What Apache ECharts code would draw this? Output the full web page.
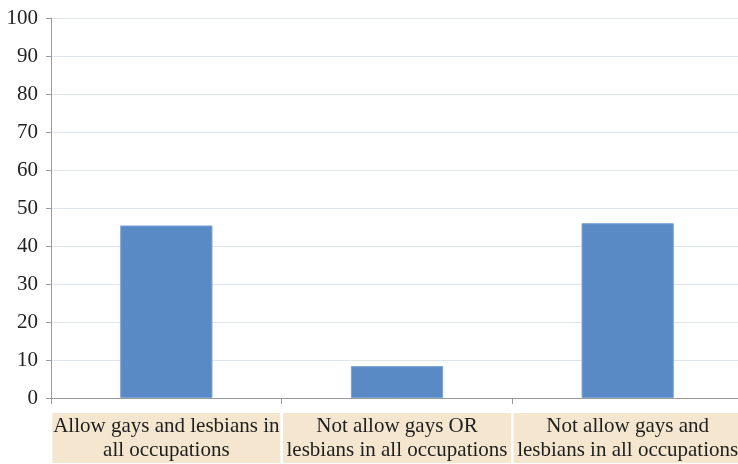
<!DOCTYPE html>
<html>
<head>
<meta charset="utf-8">
<script src="https://cdn.jsdelivr.net/npm/echarts@6/dist/echarts.min.js"></script>
<style>
  html, body { margin: 0; padding: 0; background: #ffffff; }
  #chart { width: 738px; height: 464px; }
</style>
</head>
<body>
<div id="chart"></div>
<script>
// Survey responses on occupational restrictions (percent)
const categories = [
  'Allow gays and lesbians in\nall occupations',
  'Not allow gays OR\nlesbians in all occupations',
  'Not allow gays and\nlesbians in all occupations'
];
const values = [45.4, 8.4, 46.0];
const yTicks = { min: 0, max: 100, step: 10 };

const chart = echarts.init(document.getElementById('chart'));
chart.setOption({
  backgroundColor: '#ffffff',
  animation: false,
  grid: { left: 51, top: 18, width: 692, bottom: 66, containLabel: false, outerBoundsMode: 'none' },
  xAxis: {
    type: 'category',
    data: categories,
    boundaryGap: true,
    axisLine: { show: true, lineStyle: { color: '#9a9a9a', width: 1 } },
    axisTick: { show: true, length: 6, alignWithLabel: false, lineStyle: { color: '#9a9a9a' } },
    splitLine: { show: false },
    axisLabel: {
      interval: 0,
      margin: 15,
      fontFamily: 'Liberation Serif',
      fontSize: 21,
      lineHeight: 24,
      color: '#1e1e1e',
      backgroundColor: '#f4e6cf',
      width: 228,
      padding: [1, 0, 1, 0],
      align: 'center'
    }
  },
  yAxis: {
    type: 'value',
    min: yTicks.min,
    max: yTicks.max,
    interval: yTicks.step,
    axisLine: { show: true, lineStyle: { color: '#9a9a9a', width: 1 } },
    axisTick: { show: true, length: 5, lineStyle: { color: '#9a9a9a' } },
    splitLine: { show: true, lineStyle: { color: '#dde4ee', width: 1 } },
    axisLabel: {
      margin: 13,
      fontFamily: 'Liberation Serif',
      fontSize: 21,
      color: '#222222'
    }
  },
  series: [{
    type: 'bar',
    data: values,
    barWidth: '40%',
    itemStyle: { color: '#5a8ac6', borderColor: '#7aa3d6', borderWidth: 1 }
  }]
});
</script>
</body>
</html>
